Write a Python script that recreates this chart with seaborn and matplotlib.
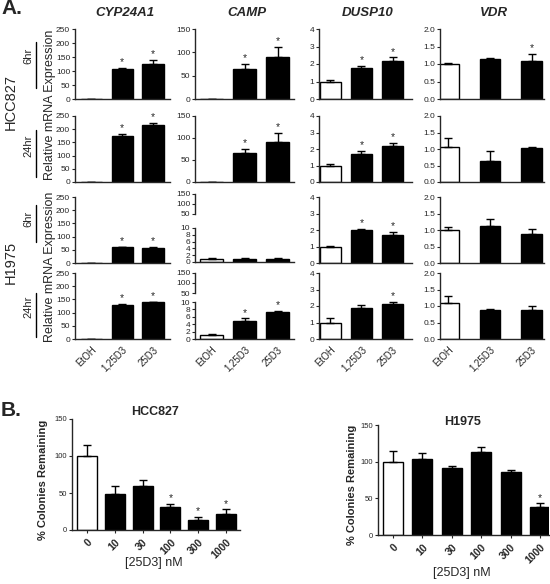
import numpy as np
import pandas as pd
import seaborn as sns
from matplotlib import pyplot as plt
from matplotlib.lines import Line2D

# ---- data ----
treatments = ["EtOH", "1,25D3", "25D3"]
genes = ["CYP24A1", "CAMP", "DUSP10", "VDR"]
# rows: HCC827 6hr, HCC827 24hr, H1975 6hr, H1975 24hr
cyp24a1_mean = [[0, 108, 126], [0, 173, 215], [0, 60, 57], [0, 127, 139]]
cyp24a1_sem = [[0, 3, 13], [0, 10, 8], [0, 2, 3], [0, 5, 3]]
cyp24a1_star = [[0, 1, 1], [0, 1, 1], [0, 1, 1], [0, 1, 1]]

camp_mean = [[1, 65, 91], [1, 65, 91], [1.0, 0.9, 1.0], [1.1, 4.9, 7.3]]
camp_sem = [[0, 10, 21], [0, 10, 21], [0.2, 0.15, 0.2], [0.2, 0.7, 0.4]]
camp_star = [[0, 1, 1], [0, 1, 1], [0, 0, 0], [0, 1, 1]]

dusp10_mean = [[1.0, 1.75, 2.2], [1.0, 1.72, 2.2], [1.0, 2.0, 1.7], [1.0, 1.87, 2.1]]
dusp10_sem = [[0.1, 0.13, 0.18], [0.1, 0.15, 0.18], [0.03, 0.08, 0.18], [0.25, 0.18, 0.15]]
dusp10_star = [[0, 1, 1], [0, 1, 1], [0, 1, 1], [0, 0, 1]]

vdr_mean = [[1.0, 1.15, 1.1], [1.05, 0.65, 1.02], [1.0, 1.12, 0.88], [1.1, 0.88, 0.88]]
vdr_sem = [[0.03, 0.02, 0.2], [0.27, 0.3, 0.04], [0.1, 0.2, 0.15], [0.2, 0.02, 0.12]]
vdr_star = [[0, 0, 1], [0, 0, 0], [0, 0, 0], [0, 0, 0]]

dose_labels = ["0", "10", "30", "100", "300", "1000"]
hcc827_colony_mean = [100, 48, 60, 31, 14, 22]
hcc827_colony_sem = [15, 12, 8, 4, 4, 6]
hcc827_colony_star = [0, 0, 0, 1, 1, 1]
h1975_colony_mean = [100, 103, 91, 113, 86, 38]
h1975_colony_sem = [14, 9, 3, 7, 3, 5]
h1975_colony_star = [0, 0, 0, 0, 0, 1]

sns.set_style("ticks")
plt.rcParams['font.family'] = ['Liberation Sans', 'DejaVu Sans']
plt.rcParams['axes.linewidth'] = 1.0

W, H = 550, 584
fig = plt.figure(figsize=(5.5, 5.84), dpi=100)


def px_axes(x0, x1, y0, y1):
    return fig.add_axes([x0 / W, 1 - y1 / H, (x1 - x0) / W, (y1 - y0) / H])


def style_axes(ax, tick_fs=6):
    sns.despine(ax=ax)
    ax.tick_params(axis='y', direction='out', length=2.5, width=0.8, labelsize=tick_fs, pad=1)
    ax.tick_params(axis='x', length=0)
    ax.set_xlabel("")
    ax.set_ylabel("")


def draw_bars(ax, labels, mean, sem, star, width, star_fs=7.5):
    df = pd.DataFrame({"cond": labels, "val": mean})
    pal = ["white"] + ["black"] * (len(labels) - 1)
    sns.barplot(data=df, x="cond", y="val", hue="cond", palette=pal, legend=False,
                edgecolor="black", linewidth=1.0, width=width, ax=ax, errorbar=None)
    pos = np.arange(len(labels))
    ax.errorbar(pos, mean, yerr=[np.zeros(len(labels)), sem], fmt="none",
                ecolor="black", elinewidth=1.0, capsize=3, capthick=1.0, zorder=1)
    for p, m, s, st in zip(pos, mean, sem, star):
        if st:
            ax.annotate("*", (p, m + s), xytext=(0, 0.5), textcoords="offset points",
                        ha="center", va="bottom", fontsize=star_fs)


# ---- panel A ----
col_x = [(75, 170), (195, 294), (319, 412), (440, 544)]
col_xlim = [(-0.52, 2.55), (-0.5, 2.5), (-0.36, 2.62), (-0.2, 2.3)]
col_w = [0.68, 0.67, 0.68, 0.5]
row_y = [(29, 99), (116, 182), (197, 263), (273, 339)]
gene_data = [
    (cyp24a1_mean, cyp24a1_sem, cyp24a1_star, (0, 250), np.arange(0, 251, 50), "{:.0f}"),
    (camp_mean, camp_sem, camp_star, (0, 150), np.arange(0, 151, 50), "{:.0f}"),
    (dusp10_mean, dusp10_sem, dusp10_star, (0, 4), np.arange(0, 5, 1), "{:.0f}"),
    (vdr_mean, vdr_sem, vdr_star, (0, 2), np.arange(0, 2.01, 0.5), "{:.1f}"),
]
camp_broken = {2: ((194, 214), (228, 262)), 3: ((273, 293), (302, 339))}

for c, (means, sems, stars, ylim, ticks, fmt) in enumerate(gene_data):
    x0, x1 = col_x[c]
    for r in range(4):
        y0, y1 = row_y[r]
        if c == 1 and r in camp_broken:
            (ty0, ty1), (by0, by1) = camp_broken[r]
            axt = px_axes(x0, x1, ty0, ty1)
            axt.set_xlim(col_xlim[c])
            axt.set_ylim(50, 150)
            axt.set_yticks([50, 100, 150])
            axt.set_yticklabels(["50", "100", "150"])
            style_axes(axt)
            axt.spines['bottom'].set_visible(False)
            axt.set_xticks([])
            ax = px_axes(x0, x1, by0, by1)
            draw_bars(ax, treatments, means[r], sems[r], stars[r], col_w[c])
            ax.set_ylim(0, 10)
            ax.set_yticks(np.arange(0, 11, 2))
            ax.set_yticklabels([str(v) for v in range(0, 11, 2)])
        else:
            ax = px_axes(x0, x1, y0, y1)
            draw_bars(ax, treatments, means[r], sems[r], stars[r], col_w[c])
            ax.set_ylim(ylim)
            ax.set_yticks(ticks)
            ax.set_yticklabels([fmt.format(t) for t in ticks])
        ax.set_xlim(col_xlim[c])
        style_axes(ax)
        if r == 3:
            ax.set_xticks(range(3))
            ax.set_xticklabels(treatments, rotation=45, ha="right", va="top",
                               rotation_mode="anchor", fontsize=7)
            ax.tick_params(axis='x', pad=4)
        else:
            ax.set_xticks([])
    fig.text(((x0 + x1) / 2 + 2) / W, 1 - 13 / H, genes[c], ha="center", va="center",
             fontsize=9.5, fontweight="bold", fontstyle="italic")

fig.text(1 / W, 1 - 9 / H, "A.", ha="left", va="center", fontsize=15, fontweight="bold")
fig.text(1 / W, 1 - 411 / H, "B.", ha="left", va="center", fontsize=15, fontweight="bold")

# left side labels
for name, yc in [("HCC827", 102), ("H1975", 262)]:
    fig.text(11 / W, 1 - yc / H, name, rotation=90, ha="center", va="center", fontsize=10.5)
for name, yc in [("Relative mRNA Expression", 105), ("Relative mRNA Expression", 267)]:
    fig.text(50 / W, 1 - yc / H, name, rotation=90, ha="center", va="center", fontsize=9)
time_labels = [("6hr", 56, (42, 88)), ("24hr", 146, (130, 177)),
               ("6hr", 219, (205, 242)), ("24hr", 307, (293, 337))]
for name, yc, (ly0, ly1) in time_labels:
    fig.text(28 / W, 1 - yc / H, name, rotation=90, ha="center", va="center", fontsize=8)
    fig.add_artist(Line2D([35.5 / W, 35.5 / W], [1 - ly0 / H, 1 - ly1 / H],
                          transform=fig.transFigure, color="black", lw=1.0))

# ---- panel B ----
b_panels = [
    ("HCC827", hcc827_colony_mean, hcc827_colony_sem, hcc827_colony_star,
     (72, 240, 419, 530), (-0.54, 5.5), 0.72, 155, 412, 43, 563),
    ("H1975", h1975_colony_mean, h1975_colony_sem, h1975_colony_star,
     (378, 549, 425, 535), (-0.51, 5.3), 0.68, 463, 422, 352, 573),
]
for title, mean, sem, star, (x0, x1, y0, y1), xlim, w, tx, ty, ylx, xly in b_panels:
    ax = px_axes(x0, x1, y0, y1)
    draw_bars(ax, dose_labels, mean, sem, star, w)
    ax.set_ylim(0, 150)
    ax.set_yticks([0, 50, 100, 150])
    ax.set_yticklabels(["0", "50", "100", "150"])
    ax.set_xlim(xlim)
    style_axes(ax, tick_fs=5.5)
    ax.set_xticks(range(len(dose_labels)))
    ax.set_xticklabels(dose_labels, rotation=45, ha="right", va="top",
                       rotation_mode="anchor", fontsize=7.5, fontweight="bold")
    ax.tick_params(axis='x', length=2, width=0.8, pad=3)
    fig.text(tx / W, 1 - ty / H, title, ha="center", va="center", fontsize=9, fontweight="bold")
    fig.text(ylx / W, 1 - (y0 + y1 + 10) / 2 / H, "% Colonies Remaining", rotation=90,
             ha="center", va="center", fontsize=8, fontweight="bold")
    fig.text(((x0 + x1) / 2 - 2) / W, 1 - xly / H, "[25D3] nM", ha="center", va="center",
             fontsize=9)

fig.savefig("out.png", dpi=100, facecolor="white")
